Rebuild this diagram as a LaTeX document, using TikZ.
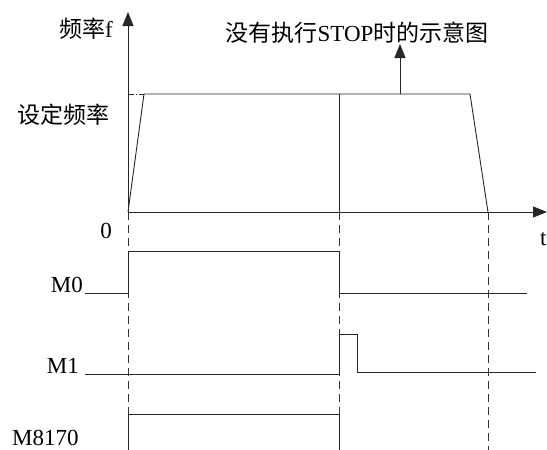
\documentclass[tikz,border=0pt]{standalone}
\usepackage{fontspec}
\setmainfont{Liberation Serif}
\newfontfamily\cjk{Noto Sans CJK SC}
\usetikzlibrary{arrows.meta}
\newcommand{\cjkfs}{\cjk\fontsize{23}{26}\selectfont}
\newcommand{\latfs}{\fontsize{23}{26}\selectfont}
\begin{document}
\begin{tikzpicture}[x=1pt,y=-1pt,
  lbl/.style={font=\latfs, inner sep=0pt},
  cjklbl/.style={font=\cjkfs, inner sep=0pt},
  sig/.style={line width=0.9pt, color=black!85},
  guide/.style={line width=0.9pt, color=black!80, dash pattern=on 8pt off 5pt},
  axis/.style={line width=0.9pt, color=black!85, -{Triangle[length=14pt,width=11pt]}}]
\useasboundingbox (0,0) rectangle (547,450);
% coordinates
\coordinate (O) at (128,212);
\coordinate (Ytip) at (128,12);
\coordinate (Xtip) at (547,212);
\coordinate (R1) at (144,94);
\coordinate (S) at (339,94);
\coordinate (Sb) at (339,212);
\coordinate (R2) at (470,94);
\coordinate (E) at (488,212);
\coordinate (Ua) at (400,94);
\coordinate (Ut) at (400,44);
% axes
\draw[axis] (O) -- (Ytip);
\draw[axis] (O) -- (Xtip);
% frequency curve
\draw[sig] (O) -- (R1) -- (R2) -- (E);
\draw[sig, dash pattern=on 6pt off 2pt on 1pt off 2pt] (128,94) -- (R1);
\draw[sig] (S) -- (Sb);
\draw[axis] (Ua) -- (Ut);
% guides
\draw[guide] (O) -- (128,450);
\draw[guide] (Sb) -- (339,450);
\draw[guide] (E) -- (488,450);
% M0
\draw[sig] (85,293) -- (128,293) -- (128,251) -- (339,251) -- (339,293) -- (527,293);
% M1
\draw[sig] (85,374) -- (339,374) -- (339,334) -- (357.5,334) -- (357.5,372) -- (536,372);
% M8170
\draw[sig] (128,450) -- (128,414) -- (339,414) -- (339,450);
% labels
\node[anchor=east, inner sep=0pt] (fl) at (113,29) {{\cjkfs 频率}{\latfs f}};
\node[cjklbl, anchor=east] (sl) at (110,115) {设定频率};
\node[lbl, anchor=base] (zero) at (106,238) {0};
\node[lbl, anchor=base west] (tl) at (540,245) {t};
\node[inner sep=0pt] (title) at (357,33) {{\cjkfs 没有执行}{\latfs STOP}{\cjkfs 时的示意图}};
\node[lbl, anchor=base east] (m0) at (83,292) {M0};
\node[lbl, anchor=base east] (m1) at (79,373) {M1};
\node[lbl, anchor=base west] (m8) at (12,445) {M8170};
\end{tikzpicture}
\end{document}
